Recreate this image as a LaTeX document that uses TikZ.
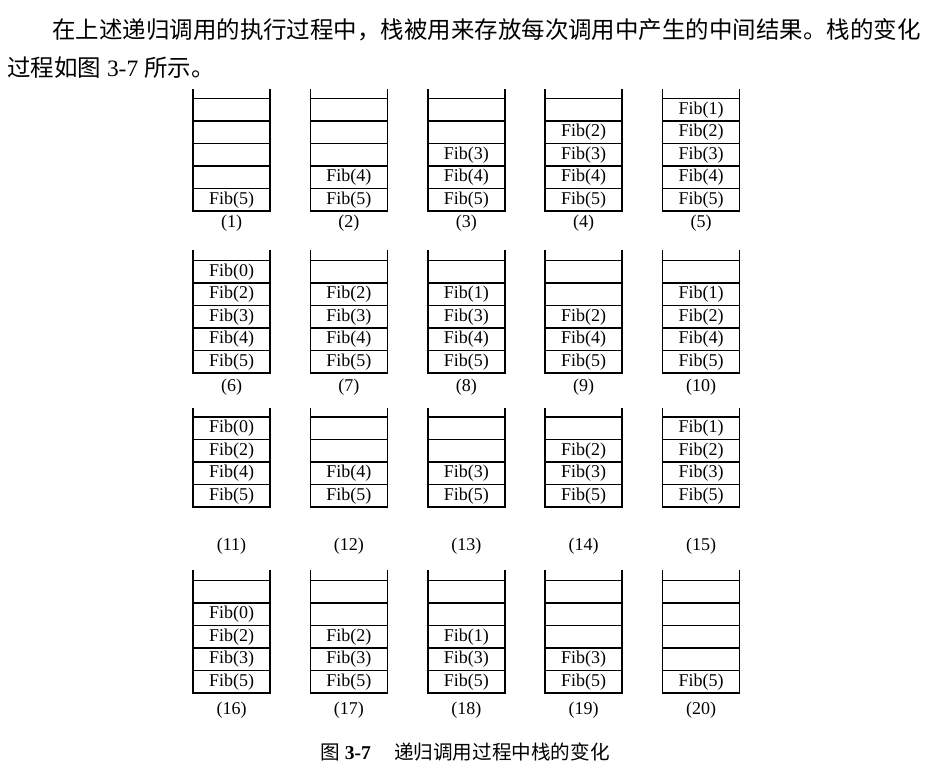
\documentclass[tikz,border=0pt]{standalone}
\usepackage{fontspec}
\setmainfont{Liberation Serif}
\newfontfamily\cjk{Noto Sans CJK SC}
\usepackage{tikz}
\usetikzlibrary{positioning}

\begin{document}
\begin{tikzpicture}[
    x=0.75pt, y=-0.75pt,
    cell/.style={draw, line width=1.2pt, minimum width=57.75pt, minimum height=16.875pt, inner sep=0pt, outer sep=0pt, font=\fontsize{13.5}{16}\selectfont},
    side/.style={line width=1.2pt},
    tag/.style={inner sep=0pt, font=\fontsize{13.5}{16}\selectfont},
    para/.style={inner sep=0pt, anchor=west, font=\fontsize{17.6}{20}\selectfont},
    capt/.style={inner sep=0pt, font=\fontsize{14.7}{17}\selectfont}
]
\useasboundingbox (0,0) rectangle (936,780);

% Text above the figure
\node[para] (line1) at (52,30) {\cjk 在上述递归调用的执行过程中，栈被用来存放每次调用中产生的中间结果。栈的变化};
\node[para] (line2) at (7,68) {{\cjk 过程如图} 3-7 {\cjk 所示。}};

% Row 1
\foreach \n/\c/\items in {1/1/{5,x,x,x,x}, 2/2/{5,4,x,x,x}, 3/3/{5,4,3,x,x}, 4/4/{5,4,3,2,x}, 5/5/{5,4,3,2,1}} {
    \pgfmathsetmacro\xc{231.5+117.4*(\c-1)}
    \foreach \v [count=\i] in \items
        \node[cell] (s\n-\i) at (\xc, {211-22.5*(\i-0.5)}) {\if x\v\else Fib(\v)\fi};
    \draw[side] (s\n-5.north west) -- ++(0,-9);
    \draw[side] (s\n-5.north east) -- ++(0,-9);
    \node[tag] (l\n) at (\xc,223) {(\n)};
}

% Row 2
\foreach \n/\c/\items in {6/1/{5,4,3,2,0}, 7/2/{5,4,3,2,x}, 8/3/{5,4,3,1,x}, 9/4/{5,4,2,x,x}, 10/5/{5,4,2,1,x}} {
    \pgfmathsetmacro\xc{231.5+117.4*(\c-1)}
    \foreach \v [count=\i] in \items
        \node[cell] (s\n-\i) at (\xc, {373-22.5*(\i-0.5)}) {\if x\v\else Fib(\v)\fi};
    \draw[side] (s\n-5.north west) -- ++(0,-10);
    \draw[side] (s\n-5.north east) -- ++(0,-10);
    \node[tag] (l\n) at (\xc,387) {(\n)};
}

% Row 3, only four cells
\foreach \n/\c/\items in {11/1/{5,4,2,0}, 12/2/{5,4,x,x}, 13/3/{5,3,x,x}, 14/4/{5,3,2,x}, 15/5/{5,3,2,1}} {
    \pgfmathsetmacro\xc{231.5+117.4*(\c-1)}
    \foreach \v [count=\i] in \items
        \node[cell] (s\n-\i) at (\xc, {507-22.5*(\i-0.5)}) {\if x\v\else Fib(\v)\fi};
    \draw[side] (s\n-4.north west) -- ++(0,-9);
    \draw[side] (s\n-4.north east) -- ++(0,-9);
    \node[tag] (l\n) at (\xc,546) {(\n)};
}

% Row 4
\foreach \n/\c/\items in {16/1/{5,3,2,0,x}, 17/2/{5,3,2,x,x}, 18/3/{5,3,1,x,x}, 19/4/{5,3,x,x,x}, 20/5/{5,x,x,x,x}} {
    \pgfmathsetmacro\xc{231.5+117.4*(\c-1)}
    \foreach \v [count=\i] in \items
        \node[cell] (s\n-\i) at (\xc, {693-22.5*(\i-0.5)}) {\if x\v\else Fib(\v)\fi};
    \draw[side] (s\n-5.north west) -- ++(0,-10);
    \draw[side] (s\n-5.north east) -- ++(0,-10);
    \node[tag] (l\n) at (\xc,710) {(\n)};
}

% Caption
\node[capt, anchor=west] (capno) at (320,752) {{\cjk 图} \textbf{3-7}};
\node[capt, right=17pt of capno] (captitle) {\cjk 递归调用过程中栈的变化};

\end{tikzpicture}
\end{document}
